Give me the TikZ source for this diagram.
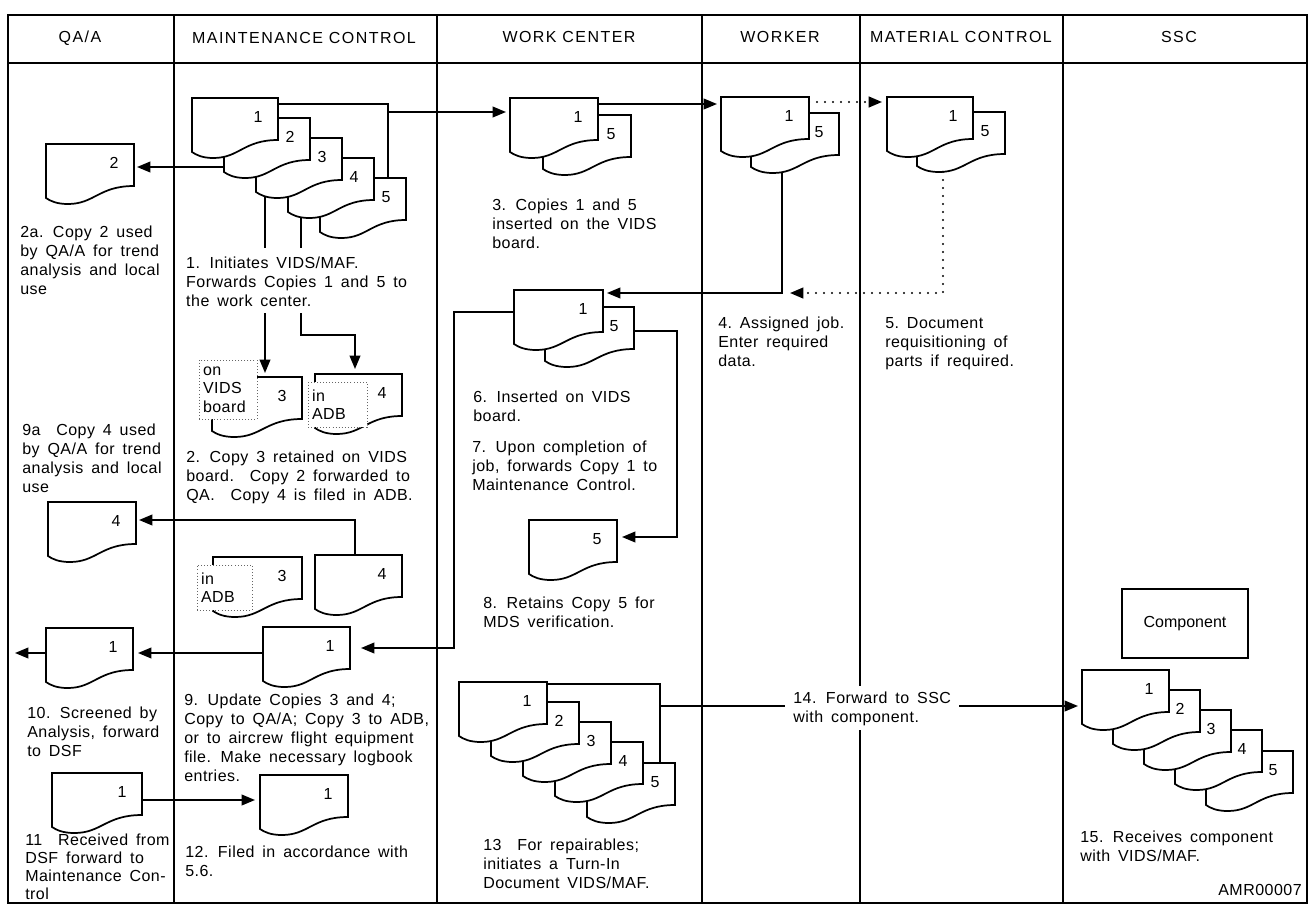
\documentclass[tikz,border=0pt]{standalone}
\usepackage{fontspec}
\setmainfont{Liberation Sans}[LetterSpace=3,WordSpace=1.6]
\newfontfamily\hdfont{Liberation Sans}[LetterSpace=9]
\newfontfamily\numfont{Liberation Sans}
\usetikzlibrary{arrows.meta,calc}
\tikzset{
  frame/.style={line width=2pt},
  lane/.style={line width=1.1pt},
  docline/.style={line width=1.3pt, fill=white, line join=miter},
  docbox/.style={rectangle, inner sep=0pt, outer sep=0pt, minimum height=45pt, anchor=north west},
  num/.style={inner sep=0pt, font=\numfont\fontsize{12pt}{14pt}\selectfont},
  conn/.style={line width=1.3pt},
  arr/.style={conn, -{Triangle[length=10pt,width=8pt]}},
  dotarr/.style={line width=1.6pt, dash pattern=on 0pt off 6pt, line cap=round, -{Triangle[length=10pt,width=8pt]}},
  dotbox/.style={draw=black!60, line width=0.7pt, dash pattern=on 0.7pt off 1.6pt, fill=white, inner sep=3pt, align=left, font=\fontsize{12pt}{13.9pt}\selectfont},
  txt/.style={anchor=north west, align=left, inner sep=0pt, font=\fontsize{12pt}{14.25pt}\selectfont},
  hd/.style={inner sep=0pt, font=\hdfont\fontsize{12pt}{14pt}\selectfont},
  compbox/.style={draw, line width=1.3pt, minimum width=94.5pt, minimum height=51.75pt, font=\numfont\fontsize{12pt}{14pt}\selectfont}
}
\newcommand{\mydoc}[5]{%
  \begin{scope}[shift={(#2,#3)}]
    \draw[docline] (0,0) -- (#4,0) -- (#4,42) .. controls ({0.6*#4},42) and ({0.55*#4},60) .. ({0.25*#4},60) .. controls ({0.12*#4},60) and ({0.05*#4},57) .. (0,54) -- cycle;
    \node[docbox, minimum width={#4*0.75pt}] (#1) at (0,0) {};
    \node[num] (#1n) at ({#4-20},19) {#5};
  \end{scope}}
\begin{document}
\begin{tikzpicture}[x=0.75pt, y=-0.75pt]
\useasboundingbox (0,0) rectangle (1310,907);
% frame and lanes
\draw[frame] (8,15) rectangle (1307,903);
\draw[lane] (8,63) -- (1307,63);
\foreach \xx in {174,437,702,860,1063} \draw[lane] (\xx,15) -- (\xx,903);
% headers
\node[hd] (hqa) at (80,38) {QA/A};
\node[hd] (hmc) at (304,38) {MAINTENANCE CONTROL};
\node[hd] (hwc) at (569,37) {WORK CENTER};
\node[hd] (hwk) at (780,37) {WORKER};
\node[hd] (hmat) at (961,37) {MATERIAL CONTROL};
\node[hd] (hssc) at (1179,37) {SSC};

% Maintenance control 5-part stack
\mydoc{s1e}{320}{178}{86}{5}
\mydoc{s1d}{288}{158}{86}{4}
\mydoc{s1c}{256}{138}{86}{3}
\mydoc{s1b}{224}{118}{86}{2}
\mydoc{s1a}{192}{98}{86}{1}
% QA copy 2
\mydoc{d2a}{46}{144}{88}{2}
% work center 1/5
\mydoc{s3b}{543}{115}{88}{5}
\mydoc{s3a}{510}{98}{88}{1}
% worker
\mydoc{s4b}{751}{113}{88}{5}
\mydoc{s4a}{721}{97}{88}{1}
% material control
\mydoc{s5b}{917}{112}{88}{5}
\mydoc{s5a}{887}{97}{86}{1}
% work center middle
\mydoc{s6b}{545}{307}{89}{5}
\mydoc{s6a}{514}{290}{89}{1}
\mydoc{d8}{529}{520}{88}{5}
% copies 3 and 4 (upper)
\mydoc{dv3}{212}{377}{90}{3}
\node[dotbox, minimum width=43.5pt, minimum height=44.25pt, text width=37.5pt] (bx1) at (228,389.5) {on\\VIDS\\board};
\mydoc{da4}{315}{374}{87}{4}
\node[dotbox, minimum width=44.25pt, minimum height=33.75pt, text width=38.25pt] (bx2) at (337.5,404.5) {in\\ADB};
% QA copy 4
\mydoc{d9a}{48}{502}{88}{4}
% copies 3 and 4 (lower)
\mydoc{db3}{213}{557}{89}{3}
\node[dotbox, minimum width=41.25pt, minimum height=33.75pt, text width=35.25pt] (bx3) at (224.5,587.5) {in\\ADB};
\mydoc{db4}{315}{555}{87}{4}
% copy 1 lower row
\mydoc{d9}{263}{627}{87}{1}
\mydoc{d10}{46}{628}{87}{1}
\mydoc{d11}{52}{773}{90}{1}
\mydoc{d12}{260}{775}{88}{1}
% turn-in stack
\mydoc{s13e}{587}{763}{88}{5}
\mydoc{s13d}{555}{742}{88}{4}
\mydoc{s13c}{523}{722}{88}{3}
\mydoc{s13b}{491}{702}{88}{2}
\mydoc{s13a}{459}{682}{88}{1}
% SSC stack
\mydoc{s15e}{1206}{751}{87}{5}
\mydoc{s15d}{1175}{730}{87}{4}
\mydoc{s15c}{1144}{710}{87}{3}
\mydoc{s15b}{1113}{690}{87}{2}
\mydoc{s15a}{1082}{670}{87}{1}
\node[compbox] (comp) at (1185,623.5) {Component};

% connectors
\draw[conn] ($(s1a.north east)+(0,6)$) -| ($(s1e.north west)+(68,0)$);
\coordinate (j1) at ($(s1e.north west)+(68,-66)$);
\draw[arr] (j1) -- ($(s3a.north west)+(-4,14)$);
\draw[arr] ($(s1b.north west)+(0,49)$) -- ($(d2a.north east)+(3,23)$);
\draw[arr] ($(s1c.north west)+(9,58)$) -- ($(dv3.north west)+(53,-4)$);
\draw[arr] ($(s1d.north west)+(13,59)$) |- ($(da4.north west)+(40,-39)$) -- ($(da4.north west)+(40,-5)$);
\draw[arr] ($(s3a.north east)+(0,6)$) -- ($(s4a.north west)+(-4,7)$);
\draw[dotarr] ($(s4a.north east)+(0,5)$) -- ($(s5a.north west)+(-5,5)$);
\draw[arr] ($(s4b.north west)+(31,59)$) |- ($(s6a.north east)+(4,3)$);
\draw[dotarr] ($(s5b.north west)+(26,60)$) |- ($(s4b.north west)+(39,180)$);
\draw[arr] ($(s6a.north west)+(0,22)$) -| ($(d9.north east)+(104,21)$) -- ($(d9.north east)+(11,21)$);
\draw[arr] ($(s6b.north east)+(0,24)$) -| ($(d8.north east)+(60,17)$) -- ($(d8.north east)+(5,17)$);
\draw[arr] ($(db4.north west)+(40,0)$) |- ($(d9a.north east)+(3,18)$);
\draw[arr] ($(d9.north west)+(0,26)$) -- ($(d10.north east)+(5,25)$);
\coordinate (out10) at (15,653);
\draw[arr] ($(d10.north west)+(0,25)$) -- (out10);
\draw[arr] ($(d11.north east)+(0,27)$) -- ($(d12.north west)+(-5,25)$);
\draw[conn] ($(s13a.north east)+(0,2)$) -| ($(s13e.north west)+(73,0)$);
\draw[arr] ($(s13e.north west)+(73,-57)$) -- ($(s15a.north west)+(-4,36)$);

% texts
\node[txt] (t2a) at (20,224) {\strut 2a. Copy 2 used\\by QA/A for trend\\analysis and local\\use};
\node[txt, fill=white, inner sep=5pt] (t1) at (179.3,248) {\strut 1. Initiates VIDS/MAF.\\Forwards Copies 1 and 5 to\\the work center.};
\node[txt] (t2) at (186,449) {\strut 2. Copy 3 retained on VIDS\\board.\ \ Copy 2 forwarded to\\QA.\ \ Copy 4 is filed in ADB.};
\node[txt] (t9a) at (22,422) {\strut 9a\ \ Copy 4 used\\by QA/A for trend\\analysis and local\\use};
\node[txt] (t9) at (184,692) {\strut 9. Update Copies 3 and 4;\\Copy to QA/A; Copy 3 to ADB,\\or to aircrew flight equipment\\file. Make necessary logbook\\entries.};
\node[txt] (t10) at (27,705) {\strut 10. Screened by\\Analysis, forward\\to DSF};
\node[txt, font=\fontsize{12pt}{13.5pt}\selectfont] (t11) at (25,833) {\strut 11\ \ Received from\\DSF forward to\\Maintenance Con-\\trol};
\node[txt] (t12) at (185,844) {\strut 12. Filed in accordance with\\5.6.};
\node[txt] (t3) at (492,197) {\strut 3. Copies 1 and 5\\inserted on the VIDS\\board.};
\node[txt] (t4) at (718,315) {\strut 4.\ Assigned job.\\Enter required\\data.};
\node[txt] (t5) at (885,315) {\strut 5.\ Document\\requisitioning of\\parts if required.};
\node[txt] (t6) at (473,389) {\strut 6. Inserted on VIDS\\board.};
\node[txt] (t7) at (472,439) {\strut 7. Upon completion of\\job, forwards Copy 1 to\\Maintenance Control.};
\node[txt] (t8) at (483,595) {\strut 8. Retains Copy 5 for\\MDS verification.};
\node[txt] (t13) at (483,837) {\strut 13\ \ For repairables;\\initiates a Turn-In\\Document VIDS/MAF.};
\node[txt, fill=white, inner xsep=6pt, inner ysep=3pt] (t14) at (785,686) {\strut 14. Forward to SSC\\with component.};
\node[txt] (t15) at (1080,829) {\strut 15. Receives component\\with VIDS/MAF.};
\node[txt, anchor=north east] (amr) at (1302,882) {\strut AMR00007};
\end{tikzpicture}
\end{document}
